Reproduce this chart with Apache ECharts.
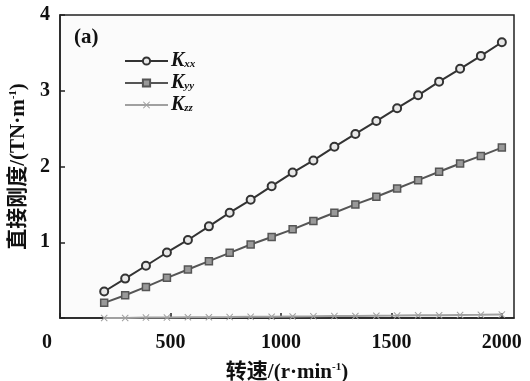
<!DOCTYPE html>
<html><head><meta charset="utf-8">
<script src="https://cdn.jsdelivr.net/npm/echarts@6/dist/echarts.min.js"></script>
<style>html,body{margin:0;padding:0;background:#fff}#c{width:530px;height:381px}</style>
</head><body><div id="c"></div>
<script>
var speeds = [200, 295, 389, 484, 579, 674, 768, 863, 958, 1053, 1147, 1242, 1337, 1432, 1526, 1621, 1716, 1811, 1905, 2000];
var kxx = [0.35, 0.52, 0.69, 0.865, 1.03, 1.21, 1.39, 1.56, 1.74, 1.92, 2.08, 2.26, 2.43, 2.60, 2.77, 2.94, 3.12, 3.29, 3.46, 3.64];
var kyy = [0.20, 0.30, 0.41, 0.53, 0.64, 0.75, 0.86, 0.97, 1.07, 1.17, 1.28, 1.39, 1.50, 1.60, 1.71, 1.82, 1.93, 2.04, 2.14, 2.25];
var kzz = [0.0, 0.0, 0.005, 0.005, 0.01, 0.01, 0.012, 0.015, 0.017, 0.02, 0.022, 0.025, 0.027, 0.03, 0.032, 0.035, 0.037, 0.04, 0.042, 0.045];
var seriesNames = ['Kxx', 'Kyy', 'Kzz'];
var xTicks = [0, 500, 1000, 1500, 2000];
var yTicks = [1, 2, 3, 4];
var xName = '转速/(r·min{sup|-1})';
var yName = '直接刚度/(TN·m{sup|-1})';
var panelLabel = '(a)';

function pairs(ys){ return speeds.map(function(x,i){ return [x, ys[i]]; }); }
var serif = 'Liberation Serif, Times New Roman, serif';
var cjk = 'Liberation Serif, Noto Sans CJK SC, serif';
var crossPath = 'path://M0,1 L1,0 L5,4 L9,0 L10,1 L6,5 L10,9 L9,10 L5,6 L1,10 L0,9 L4,5 Z';

var chart = echarts.init(document.getElementById('c'));
chart.setOption({
  animation: false,
  backgroundColor: '#fff',
  grid: { left: 60, top: 15, right: 16, bottom: 63, containLabel: false, outerBoundsMode: 'none',
    show: true, borderColor: '#222', borderWidth: 1.5, backgroundColor: '#fbfbfb' },
  graphic: [{ type: 'text', left: 74, top: 27, style: { text: panelLabel, font: 'bold 21px ' + serif, fill: '#111' } }],
  legend: {
    orient: 'vertical', left: 119, top: 46, itemWidth: 43, itemHeight: 9, itemGap: 2,
    data: seriesNames,
    formatter: function(n){ return '{k|K}{s|' + n.slice(1) + '}'; },
    textStyle: {
      padding: [0,0,0,-2],
      rich: {
        k: { fontFamily: serif, fontStyle: 'italic', fontWeight: 'bold', fontSize: 20, lineHeight: 19, color: '#111' },
        s: { fontFamily: serif, fontStyle: 'italic', fontWeight: 'bold', fontSize: 11, lineHeight: 19, color: '#111', padding: [7,0,0,0] }
      }
    }
  },
  xAxis: {
    type: 'value', min: 0, max: 2055, interval: 500,
    name: xName, nameLocation: 'middle', nameGap: 44,
    nameTextStyle: { fontFamily: cjk, fontWeight: 'bold', fontSize: 21, color: '#111',
      rich: { sup: { fontFamily: serif, fontWeight: 'bold', fontSize: 11, color: '#111', padding: [0,0,10,0] } } },
    axisLine: { show: true, lineStyle: { color: '#222', width: 1.5 } },
    axisTick: { inside: true, length: 5, lineStyle: { color: '#222', width: 1.5 } },
    splitLine: { show: false },
    axisLabel: { showMaxLabel: false, margin: 15, fontFamily: serif, fontWeight: 'bold', fontSize: 20, color: '#111',
      formatter: function(v){ return xTicks.indexOf(v) < 0 ? '' : (v === 0 ? '{z|0}' : String(v)); },
      rich: { z: { fontFamily: serif, fontWeight: 'bold', fontSize: 20, color: '#111', padding: [0,26,0,0] } } }
  },
  yAxis: {
    type: 'value', min: 0, max: 4, interval: 1,
    name: yName, nameLocation: 'middle', nameGap: 28,
    nameTextStyle: { fontFamily: cjk, fontWeight: 'bold', fontSize: 21, color: '#111',
      rich: { sup: { fontFamily: serif, fontWeight: 'bold', fontSize: 11, color: '#111', padding: [0,0,10,0] } } },
    axisLine: { show: true, lineStyle: { color: '#222', width: 1.5 } },
    axisTick: { inside: true, length: 5, lineStyle: { color: '#222', width: 1.5 } },
    splitLine: { show: false },
    axisLabel: { margin: 10, fontFamily: serif, fontWeight: 'bold', fontSize: 20, color: '#111',
      formatter: function(v){ return yTicks.indexOf(v) < 0 ? '' : String(v); } }
  },
  series: [
    { name: seriesNames[0], type: 'line', data: pairs(kxx), symbol: 'circle', symbolSize: 8,
      lineStyle: { color: '#333', width: 2 }, itemStyle: { color: '#e8e8e8', borderColor: '#333', borderWidth: 2 } },
    { name: seriesNames[1], type: 'line', data: pairs(kyy), symbol: 'rect', symbolSize: 7,
      lineStyle: { color: '#555', width: 2 }, itemStyle: { color: '#999', borderColor: '#555', borderWidth: 1.5 } },
    { name: seriesNames[2], type: 'line', data: pairs(kzz), symbol: crossPath, symbolSize: 7,
      lineStyle: { color: '#a0a0a0', width: 2 }, itemStyle: { color: '#a0a0a0', borderWidth: 0 } }
  ]
});
</script></body></html>
